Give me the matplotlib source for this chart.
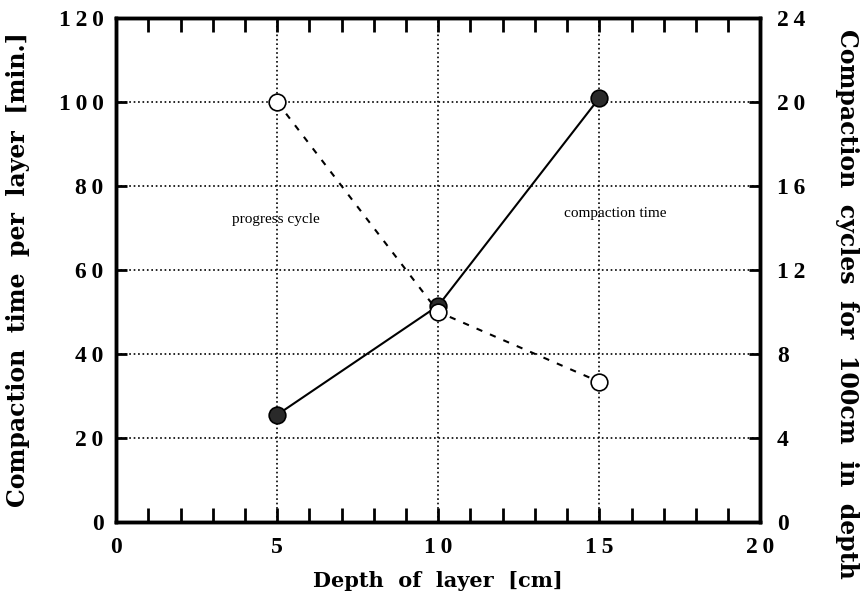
import matplotlib.pyplot as plt
from matplotlib.ticker import MultipleLocator

plt.rcParams['font.family'] = ['Liberation Serif', 'DejaVu Serif']

# data
depth = [5, 10, 15]
compaction_time = [25.5, 51.5, 101]      # left axis [min.]
progress_cycles = [20, 10, 6.67]         # right axis, cycles for 100cm

x_ticks = [0, 5, 10, 15, 20]
left_ticks = [0, 20, 40, 60, 80, 100, 120]
right_ticks = [0, 4, 8, 12, 16, 20, 24]


def spaced(v):
    # the original uses wide letter spacing on the numbers
    return '\u2009'.join(str(v))


fig = plt.figure(figsize=(8.67, 6.06), dpi=100)
ax = fig.add_axes([0.134, 0.139, 0.743, 0.831])
ax2 = ax.twinx()

ax.set_xlim(0, 20)
ax.set_ylim(0, 120)
ax2.set_ylim(0, 24)

ax.grid(True, color='black', linestyle=':', linewidth=1.2)
ax.set_axisbelow(True)

ax.plot(depth, compaction_time, '-', color='black', lw=1.5,
        marker='o', ms=12, mfc='#2a2a2a', mec='black', mew=1.2, zorder=3)
ax2.plot(depth, progress_cycles, '--', color='black', lw=1.5, dashes=(3, 4),
         marker='o', ms=12, mfc='white', mec='black', mew=1.2, zorder=3)

ax.set_xticks(x_ticks)
ax.set_xticklabels([spaced(v) for v in x_ticks])
ax.xaxis.set_minor_locator(MultipleLocator(1))
ax.set_yticks(left_ticks)
ax.set_yticklabels([spaced(v) for v in left_ticks])
ax2.set_yticks(right_ticks)
ax2.set_yticklabels([spaced(v) for v in right_ticks])

ax.tick_params(axis='x', which='both', direction='in', top=True, width=2)
ax.tick_params(axis='x', which='major', length=10, pad=11)
ax.tick_params(axis='x', which='minor', length=10)
ax.tick_params(axis='y', which='major', direction='in', length=8, width=2, pad=9)
ax2.tick_params(axis='y', which='major', direction='in', length=8, width=2, pad=12)

for a in (ax, ax2):
    for s in a.spines.values():
        s.set_linewidth(2.5)
    for lab in a.get_xticklabels() + a.get_yticklabels():
        lab.set_fontsize(17)
        lab.set_fontweight('bold')

ax.set_xlabel('Depth  of  layer  [cm]', family='DejaVu Serif', fontsize=15,
              fontweight='bold', labelpad=9)
ax.set_ylabel('Compaction  time  per  layer  [min.]', family='DejaVu Serif',
              fontsize=17, fontweight='bold', va='center')
ax2.set_ylabel('Compaction  cycles  for  100cm  in  depth', family='DejaVu Serif',
               fontsize=17, fontweight='bold', rotation=-90, va='center')
ax.yaxis.set_label_coords(-0.152, 0.5)
ax2.yaxis.set_label_coords(1.135, 0.433)

ax.text(3.6, 72, 'progress cycle', fontsize=11, va='center')
ax.text(13.9, 73.5, 'compaction time', fontsize=11, va='center')

fig.savefig('out.png', dpi=100)
